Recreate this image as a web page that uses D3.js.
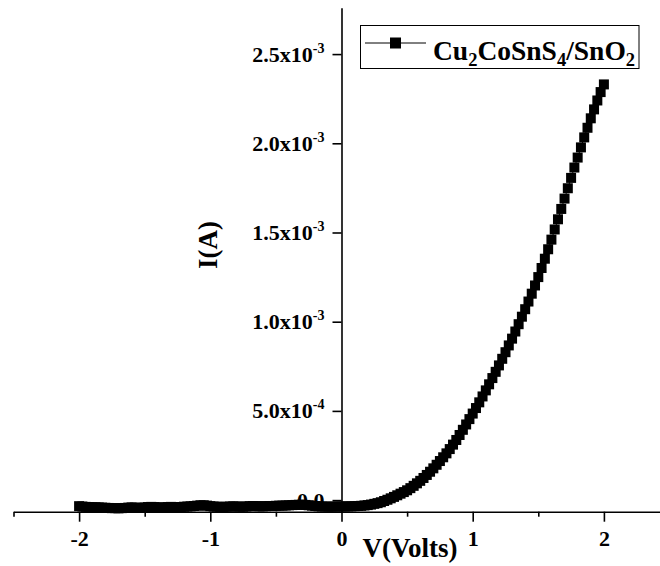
<!DOCTYPE html>
<html>
<head>
<meta charset="utf-8">
<script src="https://cdn.jsdelivr.net/npm/d3@7"></script>
<style>
  body { margin: 0; background: #fff; }
  text { font-family: 'Liberation Serif', 'Times New Roman', serif; font-weight: bold; fill: #000; }
</style>
</head>
<body>
<script>
// voltage sweep (V)
const voltage = [
  -2.000, -1.975, -1.950, -1.925, -1.900, -1.875, -1.850, -1.825, -1.800, -1.775,
  -1.750, -1.725, -1.700, -1.675, -1.650, -1.625, -1.600, -1.575, -1.550, -1.525,
  -1.500, -1.475, -1.450, -1.425, -1.400, -1.375, -1.350, -1.325, -1.300, -1.275,
  -1.250, -1.225, -1.200, -1.175, -1.150, -1.125, -1.100, -1.075, -1.050, -1.025,
  -1.000, -0.975, -0.950, -0.925, -0.900, -0.875, -0.850, -0.825, -0.800, -0.775,
  -0.750, -0.725, -0.700, -0.675, -0.650, -0.625, -0.600, -0.575, -0.550, -0.525,
  -0.500, -0.475, -0.450, -0.425, -0.400, -0.375, -0.350, -0.325, -0.300, -0.275,
  -0.250, -0.225, -0.200, -0.175, -0.150, -0.125, -0.100, -0.075, -0.050, -0.025,
  0.000, 0.025, 0.050, 0.075, 0.100, 0.125, 0.150, 0.175, 0.200, 0.225,
  0.250, 0.275, 0.300, 0.325, 0.350, 0.375, 0.400, 0.425, 0.450, 0.475,
  0.500, 0.525, 0.550, 0.575, 0.600, 0.625, 0.650, 0.675, 0.700, 0.725,
  0.750, 0.775, 0.800, 0.825, 0.850, 0.875, 0.900, 0.925, 0.950, 0.975,
  1.000, 1.025, 1.050, 1.075, 1.100, 1.125, 1.150, 1.175, 1.200, 1.225,
  1.250, 1.275, 1.300, 1.325, 1.350, 1.375, 1.400, 1.425, 1.450, 1.475,
  1.500, 1.525, 1.550, 1.575, 1.600, 1.625, 1.650, 1.675, 1.700, 1.725,
  1.750, 1.775, 1.800, 1.825, 1.850, 1.875, 1.900, 1.925, 1.950, 1.975,
  2.000
];

// current in mA (x1e-3 A)
const currentmA = [
  -0.034, -0.036, -0.038, -0.039, -0.040, -0.040, -0.041, -0.042, -0.043, -0.044,
  -0.045, -0.045, -0.046, -0.045, -0.044, -0.042, -0.041, -0.042, -0.044, -0.043,
  -0.041, -0.039, -0.038, -0.039, -0.041, -0.042, -0.041, -0.039, -0.038, -0.039,
  -0.040, -0.039, -0.037, -0.036, -0.035, -0.033, -0.031, -0.029, -0.029, -0.031,
  -0.034, -0.036, -0.037, -0.038, -0.038, -0.037, -0.036, -0.035, -0.036, -0.037,
  -0.037, -0.036, -0.034, -0.033, -0.034, -0.035, -0.035, -0.034, -0.033, -0.033,
  -0.032, -0.031, -0.031, -0.030, -0.029, -0.028, -0.027, -0.026, -0.026, -0.027,
  -0.029, -0.031, -0.033, -0.035, -0.036, -0.036, -0.037, -0.037, -0.036, -0.036,
  -0.036, -0.036, -0.035, -0.035, -0.034, -0.033, -0.032, -0.030, -0.028, -0.025,
  -0.021, -0.017, -0.012, -0.005, 0.002, 0.010, 0.018, 0.027, 0.036, 0.045,
  0.055, 0.067, 0.080, 0.094, 0.108, 0.124, 0.141, 0.159, 0.178, 0.198,
  0.219, 0.240, 0.262, 0.286, 0.311, 0.337, 0.365, 0.394, 0.424, 0.454,
  0.485, 0.516, 0.548, 0.581, 0.615, 0.649, 0.684, 0.719, 0.755, 0.792,
  0.829, 0.867, 0.905, 0.945, 0.986, 1.028, 1.070, 1.113, 1.157, 1.203,
  1.250, 1.301, 1.353, 1.406, 1.460, 1.517, 1.574, 1.632, 1.690, 1.748,
  1.806, 1.864, 1.920, 1.977, 2.033, 2.087, 2.140, 2.190, 2.240, 2.287,
  2.330
];

const xTicks = [-2, -1, 0, 1, 2];
const xTickLabels = ['-2', '-1', '0', '1', '2'];
const xMinorTicks = [-2.5, -1.5, -0.5, 0.5, 1.5, 2.5];
const yTicks = [0, 5e-4, 1e-3, 1.5e-3, 2e-3, 2.5e-3];
const yTickMantissa = ['0.0', '5.0', '1.0', '1.5', '2.0', '2.5'];
const yTickExponent = ['', '-4', '-3', '-3', '-3', '-3'];
const seriesName = ['Cu', '2', 'CoSnS', '4', '/SnO', '2']; // alternating text / subscript

const data = voltage.map((v, i) => ({ v: v, i: currentmA[i] * 1e-3 }));

const width = 660, height = 566;
const svg = d3.select('body').append('svg').attr('width', width).attr('height', height);

const x = d3.scaleLinear([-2.5, 2.5], [13.5, 669.5]);
const y = d3.scaleLinear([-0.065e-3, 2.76e-3], [511.7, 7.7]);

const xAxisY = y.range()[0];
const yAxisX = x(0);

// x axis: minor then major ticks
svg.append('g')
  .attr('transform', `translate(0,${xAxisY})`)
  .call(d3.axisBottom(x).tickValues(xMinorTicks).tickSize(5).tickSizeOuter(0).tickFormat(''))
  .call(g => g.select('.domain').remove());

const xAxis = svg.append('g')
  .attr('transform', `translate(0,${xAxisY})`)
  .call(d3.axisBottom(x).tickValues(xTicks).tickSize(10).tickSizeOuter(0).tickPadding(9)
    .tickFormat((d, k) => xTickLabels[k]));
xAxis.selectAll('text').attr('font-size', 22).attr('font-family', null).style('fill', '#000');

// y axis
const yAxis = svg.append('g')
  .attr('transform', `translate(${yAxisX},0)`)
  .call(d3.axisLeft(y).tickValues(yTicks).tickSize(9).tickSizeOuter(0).tickFormat(''));

svg.selectAll('.domain').attr('stroke-width', 1.6);
svg.selectAll('.tick line').attr('stroke-width', 1.6);

const yLabels = svg.append('g');
yTicks.forEach((t, k) => {
  const txt = yLabels.append('text')
    .attr('x', yAxisX - 17)
    .attr('y', y(t) + 7.5)
    .attr('text-anchor', 'end')
    .attr('font-size', 22);
  if (yTickExponent[k] === '') {
    txt.text(yTickMantissa[k]);
  } else {
    txt.append('tspan').text(yTickMantissa[k] + 'x10');
    txt.append('tspan').attr('dy', -9).attr('font-size', 14).text(yTickExponent[k]);
  }
});

// axis titles
svg.append('text')
  .attr('x', 410)
  .attr('y', 557)
  .attr('text-anchor', 'middle')
  .attr('font-size', 27)
  .text('V(Volts)');

svg.append('text')
  .attr('transform', 'translate(217,245) rotate(-90)')
  .attr('text-anchor', 'middle')
  .attr('font-size', 27)
  .text('I(A)');

// data: line + square symbols
const line = d3.line().x(d => x(d.v)).y(d => y(d.i));
svg.append('path')
  .datum(data)
  .attr('fill', 'none')
  .attr('stroke', '#000')
  .attr('stroke-width', 1)
  .attr('d', line);

const ms = 10;
svg.append('g')
  .selectAll('rect')
  .data(data)
  .join('rect')
  .attr('x', d => x(d.v) - ms / 2)
  .attr('y', d => y(d.i) - ms / 2)
  .attr('width', ms)
  .attr('height', ms)
  .attr('fill', '#000');

// legend
const lg = svg.append('g');
lg.append('rect')
  .attr('x', 360.5).attr('y', 25.5)
  .attr('width', 278.5).attr('height', 43)
  .attr('fill', '#fff').attr('stroke', '#000').attr('stroke-width', 1);
lg.append('line')
  .attr('x1', 365).attr('x2', 426).attr('y1', 43).attr('y2', 43)
  .attr('stroke', '#000').attr('stroke-width', 1);
lg.append('rect')
  .attr('x', 395.5 - 5.5).attr('y', 43 - 5.5)
  .attr('width', 11).attr('height', 11).attr('fill', '#000');
const lt = lg.append('text').attr('x', 433).attr('y', 60).attr('font-size', 27.5);
seriesName.forEach((s, k) => {
  if (k % 2 === 0) {
    lt.append('tspan').attr('dy', k === 0 ? 0 : -6).attr('font-size', 27.5).text(s);
  } else {
    lt.append('tspan').attr('dy', 6).attr('font-size', 18.5).text(s);
  }
});
</script>
</body>
</html>
